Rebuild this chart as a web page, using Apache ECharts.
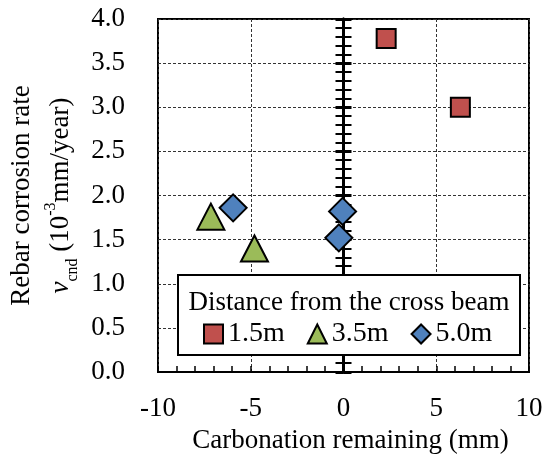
<!DOCTYPE html>
<html>
<head>
<meta charset="utf-8">
<script src="https://cdn.jsdelivr.net/npm/echarts@6/dist/echarts.min.js"></script>
<style>
html,body{margin:0;padding:0;background:#fff;}
#main{width:550px;height:460px;}
</style>
</head>
<body>
<div id="main"></div>
<script>
// 数据
var seriesNames = ['1.5m', '3.5m', '5.0m'];
var data15 = [[2.3, 3.78], [6.3, 3.0]];
var data35 = [[-7.15, 1.76], [-4.8, 1.40]];
var data50 = [[-5.95, 1.86], [-0.05, 1.82], [-0.25, 1.52]];
var xTicks = [-10, -5, 0, 5, 10];
var yTicks = [0, 0.5, 1, 1.5, 2, 2.5, 3, 3.5, 4];
var legendTitle = 'Distance from the cross beam';

var FONT = 'Liberation Serif';
var FS = 27;

var myChart = echarts.init(document.getElementById('main'));

// 中间 y 轴（在 x=0 处），inside/outside 两条叠加成十字刻度
function zeroAxis(inside) {
	return {
		type: 'value',
		position: 'left',
		min: yTicks[0],
		max: yTicks[yTicks.length - 1],
		interval: 0.5,
		axisLine: {show: true, onZero: true, onZeroAxisIndex: 0, lineStyle: {color: '#000', width: 3}},
		axisTick: {show: true, inside: inside, length: 8, lineStyle: {color: '#000', width: 3}},
		minorTick: {show: true, splitNumber: 5, length: 8, lineStyle: {color: '#000', width: 2}},
		axisLabel: {show: false},
		splitLine: {show: false},
		z: 1
	};
}

var option = {
	animation: false,
	backgroundColor: '#fff',
	grid: {
		left: 158, right: 21, top: 19, bottom: 88,
		show: true, borderColor: '#000', borderWidth: 2, backgroundColor: 'transparent'
	},
	xAxis: {
		type: 'value',
		min: xTicks[0],
		max: xTicks[xTicks.length - 1],
		interval: 5,
		name: 'Carbonation remaining (mm)',
		nameLocation: 'middle',
		nameGap: 55,
		nameTextStyle: {color: '#000', fontSize: FS, fontFamily: FONT, padding: [0, 0, 0, 14]},
		axisLine: {show: true, onZero: false, lineStyle: {color: '#000', width: 2}},
		axisTick: {show: true, inside: true, length: 6, lineStyle: {color: '#000', width: 1.5}},
		minorTick: {show: true, splitNumber: 5, length: 6, lineStyle: {color: '#000', width: 1.5}},
		axisLabel: {color: '#000', fontSize: FS, fontFamily: FONT, margin: 23},
		splitLine: {show: true, lineStyle: {color: '#333', width: 1, type: [3, 2]}}
	},
	yAxis: [
		{
			type: 'value',
			position: 'left',
			min: yTicks[0],
			max: yTicks[yTicks.length - 1],
			interval: 0.5,
			name: '{a|Rebar corrosion rate}\n{i|v}{s|cnd}{t| (10}{p|-3}{t|mm/year)}',
			nameLocation: 'middle',
			nameGap: 73,
			nameRotate: 90,
			nameTextStyle: {
				color: '#000', fontFamily: FONT, fontSize: FS, align: 'center',
				rich: {
					a: {fontFamily: FONT, fontSize: FS, color: '#000', lineHeight: 40},
					t: {fontFamily: FONT, fontSize: FS, color: '#000', lineHeight: 38},
					i: {fontFamily: FONT, fontSize: FS, color: '#000', fontStyle: 'italic', lineHeight: 38},
					s: {fontFamily: FONT, fontSize: 16, color: '#000', verticalAlign: 'bottom', lineHeight: 26},
					p: {fontFamily: FONT, fontSize: 16, color: '#000', verticalAlign: 'top', lineHeight: 26}
				}
			},
			axisLine: {show: false, onZero: false},
			axisTick: {show: false},
			axisLabel: {
				color: '#000', fontSize: FS, fontFamily: FONT, margin: 33,
				formatter: function (v) { return v.toFixed(1); }
			},
			splitLine: {show: true, lineStyle: {color: '#333', width: 1, type: [3, 2]}}
		},
		zeroAxis(true),
		zeroAxis(false)
	],
	legend: {
		left: 203,
		top: 320,
		itemWidth: 19,
		itemHeight: 19,
		itemGap: 22,
		padding: 0,
		z: 5,
		textStyle: {color: '#000', fontSize: 28, fontFamily: FONT},
		data: seriesNames
	},
	graphic: [
		{
			type: 'rect',
			z: 3,
			shape: {x: 178, y: 275, width: 342, height: 80},
			style: {fill: '#fff', stroke: '#000', lineWidth: 2}
		},
		{
			type: 'text',
			z: 6,
			x: 349,
			y: 303,
			style: {
				text: legendTitle, fill: '#000', fontSize: FS, fontFamily: FONT,
				align: 'center', verticalAlign: 'middle'
			}
		}
	],
	series: [
		{
			name: seriesNames[0], type: 'scatter', symbol: 'rect', symbolSize: 19,
			itemStyle: {color: '#C0504D', borderColor: '#000', borderWidth: 2, opacity: 1},
			data: data15, z: 2
		},
		{
			name: seriesNames[1], type: 'scatter', symbol: 'triangle', symbolSize: [27, 26],
			itemStyle: {color: '#9BBB59', borderColor: '#000', borderWidth: 2, opacity: 1},
			data: data35, z: 2
		},
		{
			name: seriesNames[2], type: 'scatter', symbol: 'diamond', symbolSize: 27,
			itemStyle: {color: '#4F81BD', borderColor: '#000', borderWidth: 2, opacity: 1},
			data: data50, z: 2
		}
	]
};
myChart.setOption(option);
</script>
</body>
</html>
